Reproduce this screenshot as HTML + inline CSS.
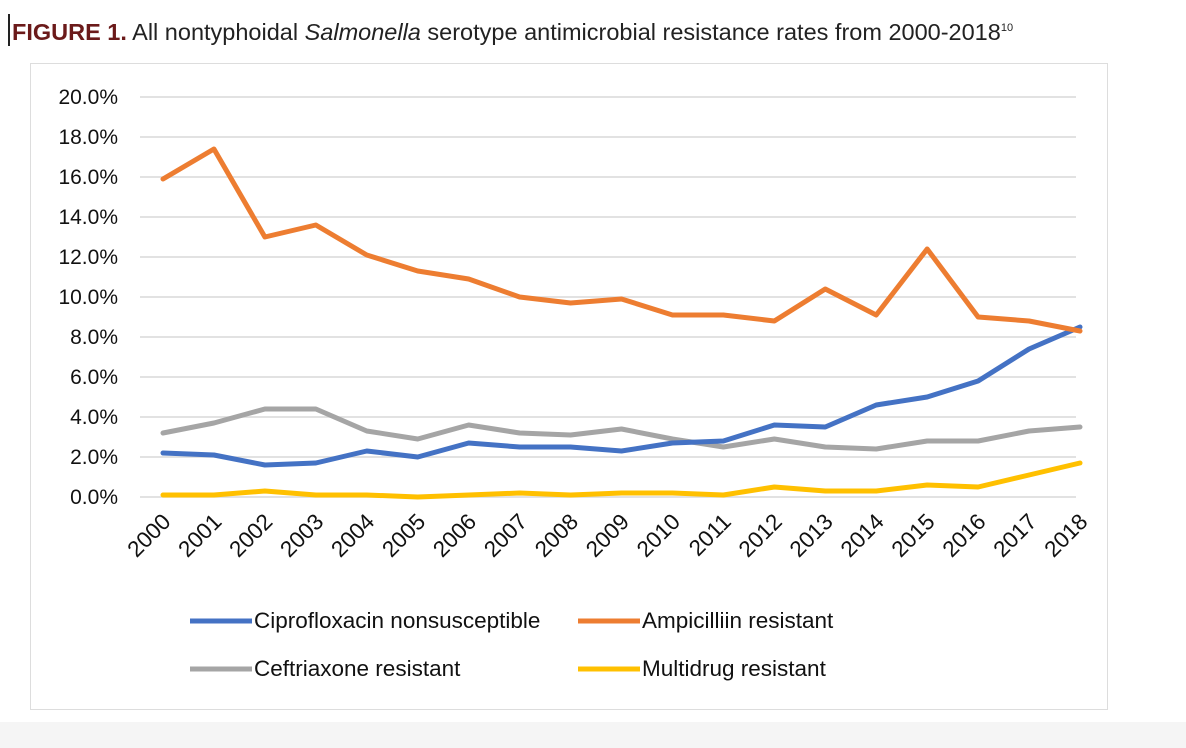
<!DOCTYPE html>
<html><head><meta charset="utf-8"><style>
body{margin:0;background:#fff;width:1186px;height:748px;overflow:hidden;font-family:"Liberation Sans","DejaVu Sans",sans-serif}
#title{position:absolute;left:8px;top:14px;font-size:23.5px;color:#222;white-space:nowrap;border-left:2px solid #222;padding-left:2px;line-height:28px}
#title b{color:#6b1a1a}
#box{position:absolute;left:30px;top:63px;width:1078px;height:647px;border:1px solid #ddd;box-sizing:border-box}
#bottomband{position:absolute;left:0;top:722px;width:1186px;height:26px;background:#f5f5f5}
</style></head><body>
<div id="title"><b>FIGURE 1.</b> All nontyphoidal <i>Salmonella</i> serotype antimicrobial resistance rates from 2000-2018<sup style="font-size:11px">10</sup></div>
<div id="box"></div>
<div id="bottomband"></div>
<svg id="chart" width="1186" height="748" style="position:absolute;left:0;top:0"></svg>
<script>
const years=["2000","2001","2002","2003","2004","2005","2006","2007","2008","2009","2010","2011","2012","2013","2014","2015","2016","2017","2018"];
const yTicks=[0,2,4,6,8,10,12,14,16,18,20];
const cipro=[2.2,2.1,1.6,1.7,2.3,2.0,2.7,2.5,2.5,2.3,2.7,2.8,3.6,3.5,4.6,5.0,5.8,7.4,8.5];
const ampi=[15.9,17.4,13.0,13.6,12.1,11.3,10.9,10.0,9.7,9.9,9.1,9.1,8.8,10.4,9.1,12.4,9.0,8.8,8.3];
const ceft=[3.2,3.7,4.4,4.4,3.3,2.9,3.6,3.2,3.1,3.4,2.9,2.5,2.9,2.5,2.4,2.8,2.8,3.3,3.5];
const mdr=[0.1,0.1,0.3,0.1,0.1,0.0,0.1,0.2,0.1,0.2,0.2,0.1,0.5,0.3,0.3,0.6,0.5,1.1,1.7];
const seriesNames=["Ciprofloxacin nonsusceptible","Ampicilliin resistant","Ceftriaxone resistant","Multidrug resistant"];
const svg=document.getElementById('chart');const NS='http://www.w3.org/2000/svg';
const X=i=>163+i*(1080-163)/(years.length-1);
const Y=v=>497-v*20;
function mk(t,a){const e=document.createElementNS(NS,t);for(const k in a)e.setAttribute(k,a[k]);svg.appendChild(e);return e;}
yTicks.forEach(v=>{
 const g=mk('line',{x1:140,x2:1076,y1:Y(v),y2:Y(v),stroke:'#d9d9d9','stroke-width':1.5});
 
 
 const t=mk('text',{x:118,y:Y(v)+7,'text-anchor':'end','font-size':21,fill:'#111'});
 t.textContent=v.toFixed(1)+'%';
 
 
});
years.forEach((y,i)=>{
 const t=mk('text',{x:X(i)+9,y:523,'text-anchor':'end','font-size':22.5,fill:'#111',transform:`rotate(-45 ${X(i)+9} 523)`});
 t.textContent=y;
 
 
});
const cols=['#4472c4','#ed7d31','#a5a5a5','#ffc000'];
const data=[cipro,ampi,ceft,mdr];
const names=['ciprofloxacin-line','ampicillin-line','ceftriaxone-line','multidrug-line'];
[3,2,0,1].forEach(s=>{
 const p=mk('polyline',{points:data[s].map((v,i)=>X(i)+','+Y(v)).join(' '),fill:'none',stroke:cols[s],'stroke-width':5,'stroke-linejoin':'round','stroke-linecap':'round'});
 
 
});
const lx=[190,578],ly=[621,669];
seriesNames.forEach((n,s)=>{
 const x=lx[s%2],y=ly[Math.floor(s/2)];
 const l=mk('line',{x1:x,x2:x+62,y1:y,y2:y,stroke:cols[s],'stroke-width':5});
 
 
 const t=mk('text',{x:x+64,y:y+7,'font-size':22.5,fill:'#111'});
 t.textContent=n;
 
 
});
</script>
</body></html>
